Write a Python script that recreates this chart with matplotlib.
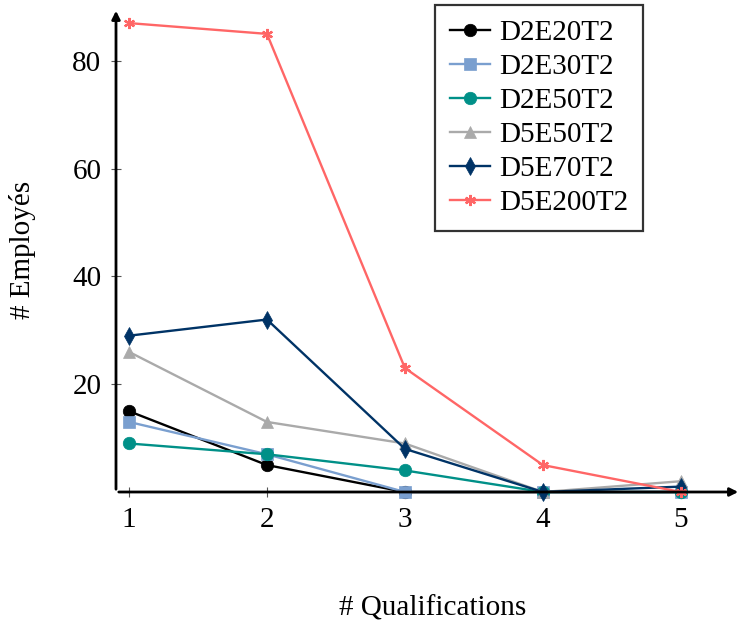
import matplotlib
matplotlib.use("Agg")
import matplotlib.pyplot as plt

plt.rcParams['font.family'] = ['Liberation Serif', 'DejaVu Serif']

qualifications = [1, 2, 3, 4, 5]
d2e20t2 = [15, 5, 0, 0, 0]
d2e30t2 = [13, 7, 0, 0, 0]
d2e50t2 = [9, 7, 4, 0, 0]
d5e50t2 = [26, 13, 9, 0, 2]
d5e70t2 = [29, 32, 8, 0, 1]
d5e200t2 = [87, 85, 23, 5, 0]

series = [
    ("D2E20T2", d2e20t2, "black", "o", 9),
    ("D2E30T2", d2e30t2, "#7a9fcf", "s", 9),
    ("D2E50T2", d2e50t2, "#009088", "o", 9),
    ("D5E50T2", d5e50t2, "#aaaaaa", "^", 9),
    ("D5E70T2", d5e70t2, "#003366", "d", 9),
    ("D5E200T2", d5e200t2, "#ff6666", (6, 2, 0), 8),
]

fig = plt.figure(figsize=(7.41, 6.28), dpi=100)
ax = fig.add_axes([116 / 741, 136 / 628, 625 / 741, 484 / 628])

for name, vals, col, mk, ms in series:
    ax.plot(qualifications, vals, color=col, marker=mk, markersize=ms,
            markeredgewidth=1.6 if mk == (6, 2, 0) else 0.5,
            markeredgecolor=col, linewidth=1.7, label=name, clip_on=False, zorder=3)

ax.set_xlim(0.906, 5.436)
ax.set_ylim(0, 89.8)
ax.set_xticks(qualifications)
ax.set_yticks([20, 40, 60, 80])
ax.tick_params(axis='both', direction='inout', length=7, width=0.8, color='#555555',
               labelsize=21, pad=7)

for s in ['top', 'right', 'left', 'bottom']:
    ax.spines[s].set_visible(False)

# axis lines with arrows
ax.annotate('', xy=(1.0, 0), xytext=(0, 0), xycoords='axes fraction',
            arrowprops=dict(arrowstyle='-|>', color='black', lw=2, mutation_scale=12))
ax.annotate('', xy=(0, 1.0), xytext=(0, 0), xycoords='axes fraction',
            arrowprops=dict(arrowstyle='-|>', color='black', lw=2, mutation_scale=12))

fig.text(433 / 741, 1 - 608 / 628, '# Qualifications', ha='center', va='center', fontsize=21)
fig.text(22 / 741, 1 - 250 / 628, '# Employés', ha='center', va='center', rotation=90, fontsize=21)

leg = ax.legend(loc='upper left', bbox_to_anchor=(435 / 741, 1 - 5 / 628),
                bbox_transform=fig.transFigure, fontsize=21, frameon=True,
                fancybox=False, handlelength=1.4, labelspacing=0.26,
                borderpad=0.5, borderaxespad=0, handletextpad=0.3)
leg.get_frame().set_edgecolor('black')
leg.get_frame().set_linewidth(1.6)

fig.savefig('out.png', dpi=100)
